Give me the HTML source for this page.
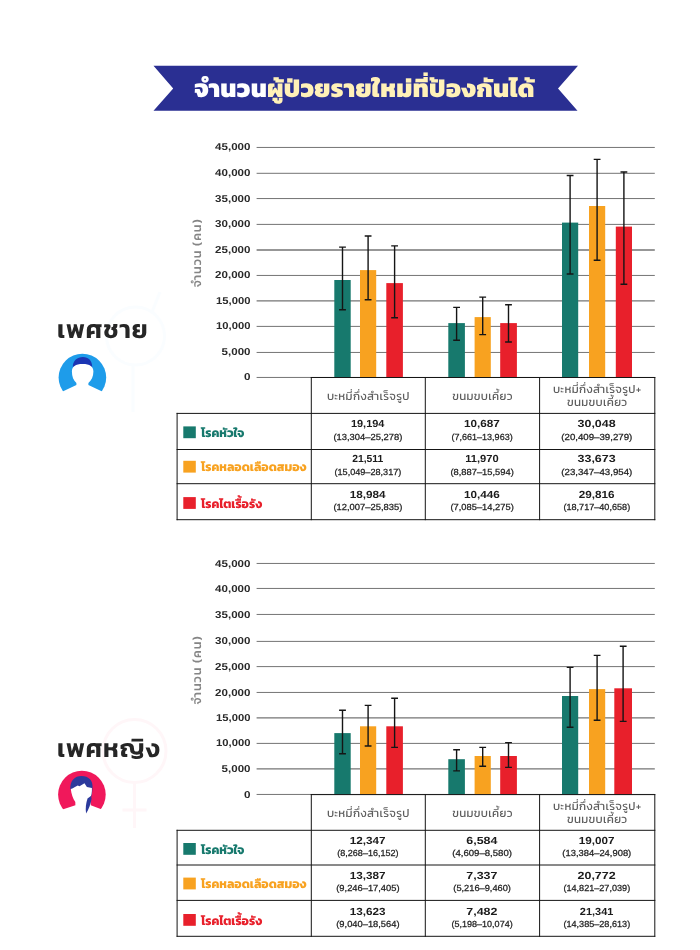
<!DOCTYPE html>
<html lang="th">
<head>
<meta charset="utf-8">
<title>จำนวนผู้ป่วยรายใหม่ที่ป้องกันได้</title>
<style>
html,body{margin:0;padding:0;background:#fff;}
body{width:700px;height:950px;overflow:hidden;position:relative;}
svg{display:block;position:absolute;left:0;top:0;}
text{font-family:"Liberation Sans",sans-serif;text-rendering:geometricPrecision;}
.ttl{font-family:"Kanit","Prompt","Mitr","Noto Sans Thai","Loma","Liberation Sans",sans-serif;font-weight:800;font-size:25px;letter-spacing:.32px;}
.ax{font-size:10px;font-weight:700;fill:#2a2a2a;}
.yt{font-family:"Kanit","Prompt","Mitr","Noto Sans Thai","Loma","Liberation Sans",sans-serif;font-size:12.4px;font-weight:500;fill:#858585;}
.hd{font-family:"Kanit","Prompt","Mitr","Noto Sans Thai","Loma","Liberation Sans",sans-serif;font-size:11.5px;font-weight:400;fill:#5e5e5e;letter-spacing:.3px;}
.lg{font-family:"Kanit","Prompt","Mitr","Noto Sans Thai","Loma","Liberation Sans",sans-serif;font-size:12.3px;font-weight:700;letter-spacing:0px;}
.val{font-size:10.3px;font-weight:700;fill:#1c1c1c;}
.rg{font-size:8.8px;font-weight:400;fill:#1d1d1d;stroke:#1d1d1d;stroke-width:.25px;}
.sex{font-family:"Kanit","Prompt","Mitr","Noto Sans Thai","Loma","Liberation Sans",sans-serif;font-size:25.6px;font-weight:600;fill:#262626;letter-spacing:.75px;}
</style>
</head>
<body>
<svg width="700" height="950" viewBox="0 0 700 950">
<rect width="700" height="950" fill="#fff"/>
<!-- watermarks -->
<g fill="none" stroke="#fafdff" stroke-width="3">
<circle cx="135.5" cy="336" r="29"/><path d="M133 365V412M152 312L160 292"/>
</g>
<g fill="none" stroke="#fff6f8" stroke-width="3">
<circle cx="134.5" cy="751" r="31.5"/><path d="M134.5 783V828M122.5 810H146.5"/>
</g>
<!-- banner -->
<path d="M153.5 65.8H578L558 88.5L577.5 110.8H153.5L173.2 88.5Z" fill="#2A2F92"/>
<text x="194.2" y="96.6" class="ttl"><tspan fill="#ffffff">จำนวน</tspan><tspan fill="#FFF1B8">ผู้ป่วยรายใหม่ที่ป้องกันได้</tspan></text>
<!-- male -->
<line x1="256.6" x2="654.8" y1="377.45" y2="377.45" stroke="#747474" stroke-width="1.0"/>
<line x1="256.6" x2="654.8" y1="352.45" y2="352.45" stroke="#747474" stroke-width="1.0"/>
<line x1="256.6" x2="654.8" y1="326.40" y2="326.40" stroke="#747474" stroke-width="1.0"/>
<line x1="256.6" x2="654.8" y1="300.85" y2="300.85" stroke="#747474" stroke-width="1.3"/>
<line x1="256.6" x2="654.8" y1="275.45" y2="275.45" stroke="#747474" stroke-width="1.0"/>
<line x1="256.6" x2="654.8" y1="250.00" y2="250.00" stroke="#747474" stroke-width="1.3"/>
<line x1="256.6" x2="654.8" y1="224.40" y2="224.40" stroke="#747474" stroke-width="1.0"/>
<line x1="256.6" x2="654.8" y1="198.55" y2="198.55" stroke="#747474" stroke-width="1.0"/>
<line x1="256.6" x2="654.8" y1="173.30" y2="173.30" stroke="#747474" stroke-width="1.0"/>
<line x1="256.6" x2="654.8" y1="147.45" y2="147.45" stroke="#747474" stroke-width="1.0"/>
<rect x="334.3" y="280.0" width="16.4" height="97.4" fill="#17796D"/>
<rect x="360.0" y="270.1" width="16.2" height="107.3" fill="#F8A220"/>
<rect x="386.3" y="283.1" width="16.6" height="94.3" fill="#E8202B"/>
<rect x="448.3" y="323.1" width="16.6" height="54.3" fill="#17796D"/>
<rect x="474.6" y="317.1" width="16.2" height="60.3" fill="#F8A220"/>
<rect x="500.2" y="323.1" width="16.7" height="54.3" fill="#E8202B"/>
<rect x="562.0" y="222.6" width="16.2" height="154.8" fill="#17796D"/>
<rect x="589.0" y="206.0" width="16.2" height="171.4" fill="#F8A220"/>
<rect x="615.8" y="226.6" width="16.2" height="150.8" fill="#E8202B"/>
<path d="M342.5 247.1V309.7M339.1 247.1h6.8M339.1 309.7h6.8" stroke="#151515" stroke-width="1.4" fill="none"/>
<path d="M368.1 236.0V299.7M364.7 236.0h6.8M364.7 299.7h6.8" stroke="#151515" stroke-width="1.4" fill="none"/>
<path d="M394.6 245.9V317.7M391.2 245.9h6.8M391.2 317.7h6.8" stroke="#151515" stroke-width="1.4" fill="none"/>
<path d="M456.6 307.4V340.3M453.2 307.4h6.8M453.2 340.3h6.8" stroke="#151515" stroke-width="1.4" fill="none"/>
<path d="M482.7 297.1V334.6M479.3 297.1h6.8M479.3 334.6h6.8" stroke="#151515" stroke-width="1.4" fill="none"/>
<path d="M508.5 304.8V342.0M505.1 304.8h6.8M505.1 342.0h6.8" stroke="#151515" stroke-width="1.4" fill="none"/>
<path d="M570.1 175.5V274.0M566.7 175.5h6.8M566.7 274.0h6.8" stroke="#151515" stroke-width="1.4" fill="none"/>
<path d="M597.1 159.4V260.3M593.7 159.4h6.8M593.7 260.3h6.8" stroke="#151515" stroke-width="1.4" fill="none"/>
<path d="M623.9 172.0V284.3M620.5 172.0h6.8M620.5 284.3h6.8" stroke="#151515" stroke-width="1.4" fill="none"/>
<text x="250.5" y="380.4" text-anchor="end" class="ax" textLength="6.5" lengthAdjust="spacingAndGlyphs">0</text>
<text x="250.5" y="355.4" text-anchor="end" class="ax" textLength="28.9" lengthAdjust="spacingAndGlyphs">5,000</text>
<text x="250.5" y="329.4" text-anchor="end" class="ax" textLength="34.4" lengthAdjust="spacingAndGlyphs">10,000</text>
<text x="250.5" y="303.9" text-anchor="end" class="ax" textLength="34.4" lengthAdjust="spacingAndGlyphs">15,000</text>
<text x="250.5" y="278.4" text-anchor="end" class="ax" textLength="35.4" lengthAdjust="spacingAndGlyphs">20,000</text>
<text x="250.5" y="253.0" text-anchor="end" class="ax" textLength="35.4" lengthAdjust="spacingAndGlyphs">25,000</text>
<text x="250.5" y="227.4" text-anchor="end" class="ax" textLength="35.4" lengthAdjust="spacingAndGlyphs">30,000</text>
<text x="250.5" y="201.6" text-anchor="end" class="ax" textLength="35.4" lengthAdjust="spacingAndGlyphs">35,000</text>
<text x="250.5" y="176.3" text-anchor="end" class="ax" textLength="35.4" lengthAdjust="spacingAndGlyphs">40,000</text>
<text x="250.5" y="150.4" text-anchor="end" class="ax" textLength="35.4" lengthAdjust="spacingAndGlyphs">45,000</text>
<text transform="translate(201.3 253.3) rotate(-90)" text-anchor="middle" class="yt" textLength="68">จำนวน (คน)</text>
<path d="M311.3 377.5H654.8M177.1 413.4H654.8M177.1 449.5H654.8M177.1 483.7H654.8M177.1 519.7H654.8M177.1 413.4V519.7M311.3 377.5V519.7M425.3 377.5V519.7M539.6 377.5V519.7M654.8 377.5V519.7" stroke="#151515" stroke-width="1" fill="none" stroke-linecap="square"/>
<text x="368.3" y="399.8" text-anchor="middle" class="hd">บะหมี่กึ่งสำเร็จรูป</text>
<text x="482.5" y="399.8" text-anchor="middle" class="hd">ขนมขบเคี้ยว</text>
<text x="597.2" y="392.6" text-anchor="middle" class="hd">บะหมี่กึ่งสำเร็จรูป+</text>
<text x="597.2" y="405.8" text-anchor="middle" class="hd">ขนมขบเคี้ยว</text>
<rect x="183.3" y="426.4" width="12.5" height="11.8" fill="#17796D"/>
<text x="201" y="437.1" class="lg" fill="#17796D">โรคหัวใจ</text>
<text x="367.7" y="427.2" text-anchor="middle" class="val" textLength="33.5" lengthAdjust="spacingAndGlyphs">19,194</text>
<text x="367.9" y="439.8" text-anchor="middle" class="rg" textLength="68.9" lengthAdjust="spacingAndGlyphs">(13,304–25,278)</text>
<text x="481.9" y="427.2" text-anchor="middle" class="val" textLength="35.8" lengthAdjust="spacingAndGlyphs">10,687</text>
<text x="482.1" y="439.8" text-anchor="middle" class="rg" textLength="61.1" lengthAdjust="spacingAndGlyphs">(7,661–13,963)</text>
<text x="596.6" y="427.2" text-anchor="middle" class="val" textLength="38.1" lengthAdjust="spacingAndGlyphs">30,048</text>
<text x="596.8" y="439.8" text-anchor="middle" class="rg" textLength="71.0" lengthAdjust="spacingAndGlyphs">(20,409–39,279)</text>
<rect x="183.3" y="460.8" width="12.5" height="11.8" fill="#F8A220"/>
<text x="201" y="471.4" class="lg" fill="#F8A220">โรคหลอดเลือดสมอง</text>
<text x="367.7" y="462.4" text-anchor="middle" class="val" textLength="31.1" lengthAdjust="spacingAndGlyphs">21,511</text>
<text x="367.9" y="474.9" text-anchor="middle" class="rg" textLength="66.8" lengthAdjust="spacingAndGlyphs">(15,049–28,317)</text>
<text x="481.9" y="462.4" text-anchor="middle" class="val" textLength="33.5" lengthAdjust="spacingAndGlyphs">11,970</text>
<text x="482.1" y="474.9" text-anchor="middle" class="rg" textLength="63.3" lengthAdjust="spacingAndGlyphs">(8,887–15,594)</text>
<text x="596.6" y="462.4" text-anchor="middle" class="val" textLength="38.1" lengthAdjust="spacingAndGlyphs">33,673</text>
<text x="596.8" y="474.9" text-anchor="middle" class="rg" textLength="71.0" lengthAdjust="spacingAndGlyphs">(23,347–43,954)</text>
<rect x="183.3" y="497.1" width="12.5" height="11.8" fill="#E8202B"/>
<text x="201" y="507.7" class="lg" fill="#E8202B">โรคไตเรื้อรัง</text>
<text x="367.7" y="497.5" text-anchor="middle" class="val" textLength="35.8" lengthAdjust="spacingAndGlyphs">18,984</text>
<text x="367.9" y="510.0" text-anchor="middle" class="rg" textLength="68.9" lengthAdjust="spacingAndGlyphs">(12,007–25,835)</text>
<text x="481.9" y="497.5" text-anchor="middle" class="val" textLength="35.8" lengthAdjust="spacingAndGlyphs">10,446</text>
<text x="482.1" y="510.0" text-anchor="middle" class="rg" textLength="63.3" lengthAdjust="spacingAndGlyphs">(7,085–14,275)</text>
<text x="596.6" y="497.5" text-anchor="middle" class="val" textLength="35.8" lengthAdjust="spacingAndGlyphs">29,816</text>
<text x="596.8" y="510.0" text-anchor="middle" class="rg" textLength="66.8" lengthAdjust="spacingAndGlyphs">(18,717–40,658)</text>
<text x="57.1" y="338.0" class="sex">เพศชาย</text>
<g transform="translate(82.4 377.5)">
<circle r="23.8" fill="#1E9CEA"/>
<path d="M-9.6 -10.5C-9.6 -17 -5 -20.6 0.5 -20.6C6 -20.6 9.8 -17 9.8 -10.5C6 -12.5 -5 -12.5 -9.6 -10.5Z" fill="#1B35B3"/>
<path d="M-10.5 -6C-10.5 -11 -7 -13.6 0.3 -13.6C7.5 -13.6 11 -11 11 -6C11 -1 9 3 6 5.5L6 7.5L24 16L24 30L-24 30L-24 16L-6 7.5L-6 5.5C-9 3 -10.5 -1 -10.5 -6Z" fill="#fff"/>
</g>
<!-- female -->
<line x1="256.6" x2="654.8" y1="794.45" y2="794.45" stroke="#747474" stroke-width="1.0"/>
<line x1="256.6" x2="654.8" y1="768.90" y2="768.90" stroke="#747474" stroke-width="1.3"/>
<line x1="256.6" x2="654.8" y1="743.40" y2="743.40" stroke="#747474" stroke-width="1.0"/>
<line x1="256.6" x2="654.8" y1="717.85" y2="717.85" stroke="#747474" stroke-width="1.3"/>
<line x1="256.6" x2="654.8" y1="692.45" y2="692.45" stroke="#747474" stroke-width="1.0"/>
<line x1="256.6" x2="654.8" y1="666.60" y2="666.60" stroke="#747474" stroke-width="1.0"/>
<line x1="256.6" x2="654.8" y1="641.40" y2="641.40" stroke="#747474" stroke-width="1.0"/>
<line x1="256.6" x2="654.8" y1="614.45" y2="614.45" stroke="#747474" stroke-width="1.0"/>
<line x1="256.6" x2="654.8" y1="588.45" y2="588.45" stroke="#747474" stroke-width="1.0"/>
<line x1="256.6" x2="654.8" y1="563.45" y2="563.45" stroke="#747474" stroke-width="1.0"/>
<rect x="334.3" y="733.1" width="16.4" height="61.4" fill="#17796D"/>
<rect x="360.0" y="726.3" width="16.2" height="68.2" fill="#F8A220"/>
<rect x="386.3" y="726.3" width="16.6" height="68.2" fill="#E8202B"/>
<rect x="448.3" y="759.2" width="16.6" height="35.2" fill="#17796D"/>
<rect x="474.6" y="756.0" width="16.2" height="38.5" fill="#F8A220"/>
<rect x="500.2" y="756.0" width="16.7" height="38.5" fill="#E8202B"/>
<rect x="562.0" y="696.0" width="16.2" height="98.5" fill="#17796D"/>
<rect x="589.0" y="689.1" width="16.2" height="105.4" fill="#F8A220"/>
<rect x="614.3" y="688.3" width="17.7" height="106.2" fill="#E8202B"/>
<path d="M342.5 710.3V753.7M339.1 710.3h6.8M339.1 753.7h6.8" stroke="#151515" stroke-width="1.4" fill="none"/>
<path d="M368.1 705.4V746.0M364.7 705.4h6.8M364.7 746.0h6.8" stroke="#151515" stroke-width="1.4" fill="none"/>
<path d="M394.6 698.3V747.4M391.2 698.3h6.8M391.2 747.4h6.8" stroke="#151515" stroke-width="1.4" fill="none"/>
<path d="M456.6 749.8V770.9M453.2 749.8h6.8M453.2 770.9h6.8" stroke="#151515" stroke-width="1.4" fill="none"/>
<path d="M482.7 747.4V766.2M479.3 747.4h6.8M479.3 766.2h6.8" stroke="#151515" stroke-width="1.4" fill="none"/>
<path d="M508.5 742.6V767.4M505.1 742.6h6.8M505.1 767.4h6.8" stroke="#151515" stroke-width="1.4" fill="none"/>
<path d="M570.1 667.4V727.2M566.7 667.4h6.8M566.7 727.2h6.8" stroke="#151515" stroke-width="1.4" fill="none"/>
<path d="M597.1 655.4V720.3M593.7 655.4h6.8M593.7 720.3h6.8" stroke="#151515" stroke-width="1.4" fill="none"/>
<path d="M623.1 646.3V721.4M619.8 646.3h6.8M619.8 721.4h6.8" stroke="#151515" stroke-width="1.4" fill="none"/>
<text x="250.5" y="797.5" text-anchor="end" class="ax" textLength="6.5" lengthAdjust="spacingAndGlyphs">0</text>
<text x="250.5" y="771.9" text-anchor="end" class="ax" textLength="28.9" lengthAdjust="spacingAndGlyphs">5,000</text>
<text x="250.5" y="746.4" text-anchor="end" class="ax" textLength="34.4" lengthAdjust="spacingAndGlyphs">10,000</text>
<text x="250.5" y="720.9" text-anchor="end" class="ax" textLength="34.4" lengthAdjust="spacingAndGlyphs">15,000</text>
<text x="250.5" y="695.5" text-anchor="end" class="ax" textLength="35.4" lengthAdjust="spacingAndGlyphs">20,000</text>
<text x="250.5" y="669.6" text-anchor="end" class="ax" textLength="35.4" lengthAdjust="spacingAndGlyphs">25,000</text>
<text x="250.5" y="644.4" text-anchor="end" class="ax" textLength="35.4" lengthAdjust="spacingAndGlyphs">30,000</text>
<text x="250.5" y="617.5" text-anchor="end" class="ax" textLength="35.4" lengthAdjust="spacingAndGlyphs">35,000</text>
<text x="250.5" y="591.5" text-anchor="end" class="ax" textLength="35.4" lengthAdjust="spacingAndGlyphs">40,000</text>
<text x="250.5" y="566.5" text-anchor="end" class="ax" textLength="35.4" lengthAdjust="spacingAndGlyphs">45,000</text>
<text transform="translate(201.3 670.4) rotate(-90)" text-anchor="middle" class="yt" textLength="68">จำนวน (คน)</text>
<path d="M311.3 794.6H654.8M177.1 830.3H654.8M177.1 865.0H654.8M177.1 900.4H654.8M177.1 936.3H654.8M177.1 830.3V936.3M311.3 794.6V936.3M425.3 794.6V936.3M539.6 794.6V936.3M654.8 794.6V936.3" stroke="#151515" stroke-width="1" fill="none" stroke-linecap="square"/>
<text x="368.3" y="816.9" text-anchor="middle" class="hd">บะหมี่กึ่งสำเร็จรูป</text>
<text x="482.5" y="816.9" text-anchor="middle" class="hd">ขนมขบเคี้ยว</text>
<text x="597.2" y="809.6" text-anchor="middle" class="hd">บะหมี่กึ่งสำเร็จรูป+</text>
<text x="597.2" y="822.9" text-anchor="middle" class="hd">ขนมขบเคี้ยว</text>
<rect x="183.3" y="843.0" width="12.5" height="11.8" fill="#17796D"/>
<text x="201" y="853.6" class="lg" fill="#17796D">โรคหัวใจ</text>
<text x="367.7" y="844.2" text-anchor="middle" class="val" textLength="35.8" lengthAdjust="spacingAndGlyphs">12,347</text>
<text x="367.9" y="856.3" text-anchor="middle" class="rg" textLength="61.1" lengthAdjust="spacingAndGlyphs">(8,268–16,152)</text>
<text x="481.9" y="844.2" text-anchor="middle" class="val" textLength="31.1" lengthAdjust="spacingAndGlyphs">6,584</text>
<text x="482.1" y="856.3" text-anchor="middle" class="rg" textLength="59.8" lengthAdjust="spacingAndGlyphs">(4,609–8,580)</text>
<text x="596.6" y="844.2" text-anchor="middle" class="val" textLength="35.8" lengthAdjust="spacingAndGlyphs">19,007</text>
<text x="596.8" y="856.3" text-anchor="middle" class="rg" textLength="68.9" lengthAdjust="spacingAndGlyphs">(13,384–24,908)</text>
<rect x="183.3" y="877.6" width="12.5" height="11.8" fill="#F8A220"/>
<text x="201" y="888.2" class="lg" fill="#F8A220">โรคหลอดเลือดสมอง</text>
<text x="367.7" y="879.3" text-anchor="middle" class="val" textLength="35.8" lengthAdjust="spacingAndGlyphs">13,387</text>
<text x="367.9" y="891.3" text-anchor="middle" class="rg" textLength="63.3" lengthAdjust="spacingAndGlyphs">(9,246–17,405)</text>
<text x="481.9" y="879.3" text-anchor="middle" class="val" textLength="31.1" lengthAdjust="spacingAndGlyphs">7,337</text>
<text x="482.1" y="891.3" text-anchor="middle" class="rg" textLength="57.6" lengthAdjust="spacingAndGlyphs">(5,216–9,460)</text>
<text x="596.6" y="879.3" text-anchor="middle" class="val" textLength="38.1" lengthAdjust="spacingAndGlyphs">20,772</text>
<text x="596.8" y="891.3" text-anchor="middle" class="rg" textLength="66.8" lengthAdjust="spacingAndGlyphs">(14,821–27,039)</text>
<rect x="183.3" y="914.0" width="12.5" height="11.8" fill="#E8202B"/>
<text x="201" y="924.6" class="lg" fill="#E8202B">โรคไตเรื้อรัง</text>
<text x="367.7" y="914.9" text-anchor="middle" class="val" textLength="35.8" lengthAdjust="spacingAndGlyphs">13,623</text>
<text x="367.9" y="927.0" text-anchor="middle" class="rg" textLength="63.3" lengthAdjust="spacingAndGlyphs">(9,040–18,564)</text>
<text x="481.9" y="914.9" text-anchor="middle" class="val" textLength="31.1" lengthAdjust="spacingAndGlyphs">7,482</text>
<text x="482.1" y="927.0" text-anchor="middle" class="rg" textLength="61.1" lengthAdjust="spacingAndGlyphs">(5,198–10,074)</text>
<text x="596.6" y="914.9" text-anchor="middle" class="val" textLength="33.5" lengthAdjust="spacingAndGlyphs">21,341</text>
<text x="596.8" y="927.0" text-anchor="middle" class="rg" textLength="66.8" lengthAdjust="spacingAndGlyphs">(14,385–28,613)</text>
<text x="57.0" y="756.8" class="sex">เพศหญิง</text>
<g transform="translate(81.9 794.6)">
<circle r="23.8" fill="#F0185B"/>
<path d="M-11.6 -5C-12.2 -14 -7 -18.6 -0.5 -18.6C7 -18.6 11.4 -14 10.6 -6C10.4 -2 9.6 2 8.8 4L4 4L-6 -4Z" fill="#2C3A9C"/>
<path d="M-11.1 -5.6L-9.6 -6.2L-4.2 -9L-2.4 -8.3L2.6 -11.4L5 -7.6L10 -6.5C10.2 -2 9.5 1 8.3 3.4L8.9 10.6L24 16.5L24 30L-24 30L-24 16.5L-6.5 10.6L-6.6 7.5C-9 4 -10.6 -1 -11.1 -5.6Z" fill="#fff"/>
<path d="M9.0 1.5L9.7 4C9 9 7 14.5 4.2 19C3.4 14 4.0 8.5 5.6 3.8Z" fill="#2C3A9C"/>
</g>
</svg>
</body>
</html>
